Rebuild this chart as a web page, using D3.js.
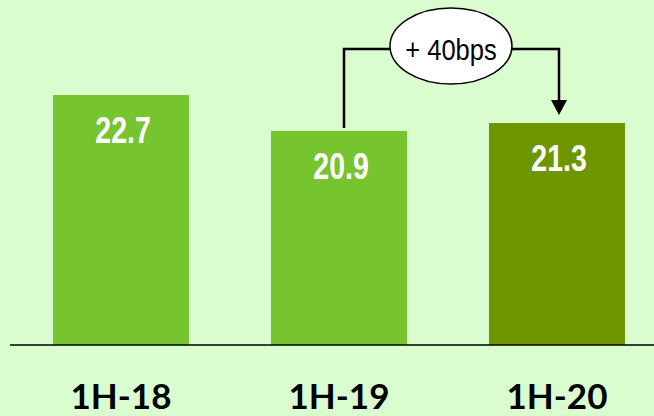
<!DOCTYPE html>
<html>
<head>
<meta charset="utf-8">
<script src="https://cdn.jsdelivr.net/npm/d3@7"></script>
<style>
  html, body { margin: 0; padding: 0; background: #dafdd0; }
  svg { display: block; }
</style>
</head>
<body>
<svg id="chart" width="654" height="416"></svg>
<script>
// Half-year values
const periods = ["1H-18", "1H-19", "1H-20"];
const values = [22.7, 20.9, 21.3];
const barColors = ["#76c42e", "#76c42e", "#6e9600"];
const changeLabel = "+ 40bps";

const svg = d3.select("#chart");
const width = 654, height = 416;
const baseY = 345;

const x = d3.scaleBand()
  .domain(periods)
  .range([12, 666])
  .paddingInner(0.376)
  .paddingOuter(0.188);

const y = d3.scaleLinear()
  .domain([10.2, 23])
  .range([baseY, baseY - 12.8 * 20]);

svg.append("rect").attr("width", width).attr("height", height).attr("fill", "#dafdd0");

// bars
svg.selectAll("rect.bar")
  .data(values)
  .join("rect")
  .attr("class", "bar")
  .attr("x", (d, i) => x(periods[i]))
  .attr("y", d => y(d))
  .attr("width", x.bandwidth())
  .attr("height", d => baseY - y(d))
  .attr("fill", (d, i) => barColors[i]);

// value labels inside bars (condensed bold face)
svg.selectAll("text.val")
  .data(values)
  .join("text")
  .attr("class", "val")
  .attr("transform", (d, i) =>
    `translate(${x(periods[i]) + x.bandwidth() / 2 + 2},${y(d) + 48}) scale(0.77,1)`)
  .attr("text-anchor", "middle")
  .attr("fill", "#ffffff")
  .style("font-family", "'Liberation Sans', Arial, sans-serif")
  .style("font-weight", "bold")
  .style("font-size", "37px")
  .text(d => d.toFixed(1));

// baseline
svg.append("line")
  .attr("x1", 10).attr("x2", width)
  .attr("y1", baseY).attr("y2", baseY)
  .attr("stroke", "#000").attr("stroke-width", 1.5);

// category axis labels
const xAxis = svg.append("g")
  .attr("transform", `translate(0,${baseY})`)
  .call(d3.axisBottom(x).tickSize(0).tickPadding(0));
xAxis.select(".domain").remove();
xAxis.selectAll("text")
  .attr("y", 63.5)
  .attr("dy", 0)
  .attr("fill", "#000")
  .style("font-family", "Lato, 'Open Sans', sans-serif")
  .style("font-weight", "bold")
  .style("font-size", "35px");

// change bracket between 1H-19 and 1H-20
const xFrom = x(periods[1]) + x.bandwidth() / 2 + 5;
const xTo = x(periods[2]) + x.bandwidth() / 2 + 2;
const bracketY = 49;
const ellCx = 451, ellCy = 46, ellRx = 61, ellRy = 38;

svg.append("path")
  .attr("d", `M${xFrom},${y(values[1]) - 3} V${bracketY} H${ellCx - ellRx}`)
  .attr("fill", "none").attr("stroke", "#000").attr("stroke-width", 2.5);
svg.append("path")
  .attr("d", `M${ellCx + ellRx},${bracketY} H${xTo} V${y(values[2]) - 22}`)
  .attr("fill", "none").attr("stroke", "#000").attr("stroke-width", 2.5);
svg.append("path")
  .attr("d", `M${xTo - 8},${y(values[2]) - 23} L${xTo + 8},${y(values[2]) - 23} L${xTo},${y(values[2]) - 8} Z`)
  .attr("fill", "#000");

svg.append("ellipse")
  .attr("cx", ellCx).attr("cy", ellCy)
  .attr("rx", ellRx).attr("ry", ellRy)
  .attr("fill", "#fff").attr("stroke", "#000").attr("stroke-width", 1.5);
svg.append("text")
  .attr("transform", `translate(${ellCx},60) scale(0.88,1)`)
  .attr("text-anchor", "middle")
  .attr("fill", "#000")
  .style("font-family", "'Liberation Sans', Arial, sans-serif")
  .style("font-size", "29px")
  .text(changeLabel);
</script>
</body>
</html>
